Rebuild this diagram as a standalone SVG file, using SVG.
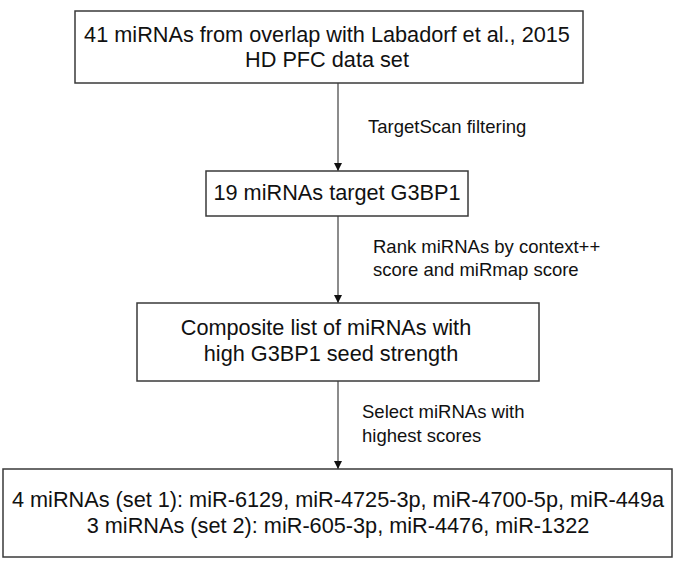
<svg xmlns="http://www.w3.org/2000/svg" width="677" height="570" viewBox="0 0 677 570">
<style>
.box{fill:#fff;stroke:#3a3a3a;stroke-width:1.5}
.t{font-family:"Liberation Sans",Arial,sans-serif;font-size:21.7px;fill:#111;text-anchor:middle}
.l{font-family:"Liberation Sans",Arial,sans-serif;font-size:18.5px;fill:#111}
.c{stroke:#666;stroke-width:1.5;fill:none;marker-end:url(#ah)}
</style>
<defs>
<marker id="ah" markerWidth="8" markerHeight="8" refX="8" refY="4" orient="auto" markerUnits="userSpaceOnUse">
<path d="M0,0 L8,4 L0,8 Z" fill="#111"/>
</marker>
</defs>
<rect width="677" height="570" fill="#fff"/>
<g id="connectors">
<line class="c" x1="338" y1="83" x2="338" y2="171"/>
<line class="c" x1="338" y1="216" x2="338" y2="303"/>
<line class="c" x1="338" y1="381" x2="338" y2="469"/>
<text class="l" x="368" y="133">TargetScan filtering</text>
<text class="l" x="373" y="253">Rank miRNAs by context++</text>
<text class="l" x="373" y="276">score and miRmap score</text>
<text class="l" x="362" y="418">Select miRNAs with</text>
<text class="l" x="362" y="442">highest scores</text>
</g>
<g id="n1">
<rect class="box" x="75" y="11" width="508" height="72"/>
<text class="t" x="327" y="42">41 miRNAs from overlap with Labadorf et al., 2015</text>
<text class="t" x="327" y="67">HD PFC data set</text>
</g>
<g id="n2">
<rect class="box" x="206" y="171" width="262" height="45"/>
<text class="t" x="337" y="200">19 miRNAs target G3BP1</text>
</g>
<g id="n3">
<rect class="box" x="137" y="303" width="402" height="78"/>
<text class="t" x="326" y="335">Composite list of miRNAs with</text>
<text class="t" x="331" y="361">high G3BP1 seed strength</text>
</g>
<g id="n4">
<rect class="box" x="3" y="469" width="669" height="88"/>
<text class="t" x="338" y="507">4 miRNAs (set 1): miR-6129, miR-4725-3p, miR-4700-5p, miR-449a</text>
<text class="t" x="338" y="533">3 miRNAs (set 2): miR-605-3p, miR-4476, miR-1322</text>
</g>
</svg>
